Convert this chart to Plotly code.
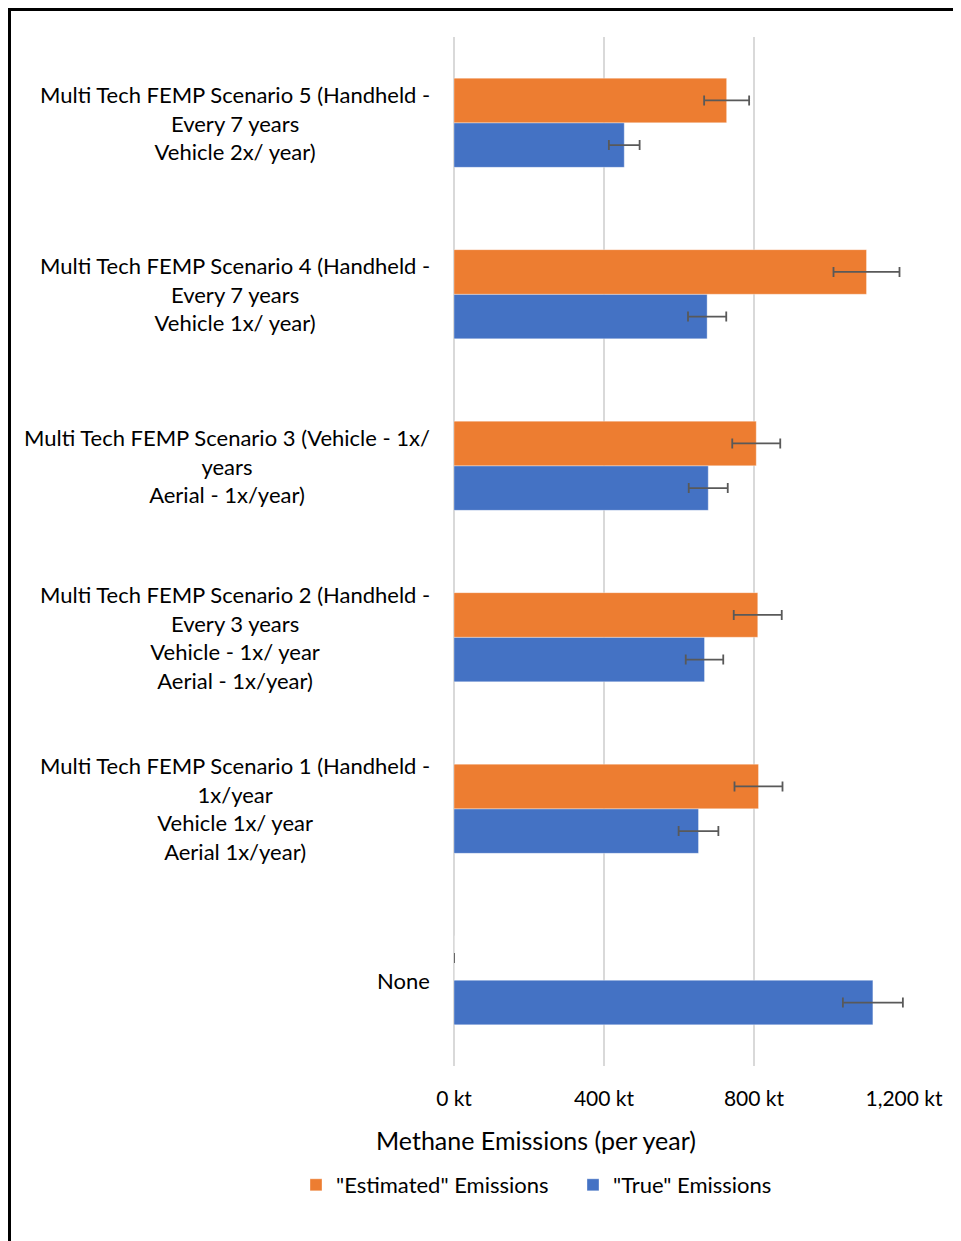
import plotly.graph_objects as go

# Categories, bottom to top
categories = [
    "None",
    "Multi Tech FEMP Scenario 1 (Handheld -<br>1x/year<br>Vehicle 1x/ year<br>Aerial 1x/year)",
    "Multi Tech FEMP Scenario 2 (Handheld -<br>Every 3 years<br>Vehicle - 1x/ year<br>Aerial - 1x/year)",
    "Multi Tech FEMP Scenario 3 (Vehicle - 1x/<br>years<br>Aerial - 1x/year)",
    "Multi Tech FEMP Scenario 4 (Handheld -<br>Every 7 years<br>Vehicle 1x/ year)",
    "Multi Tech FEMP Scenario 5 (Handheld -<br>Every 7 years<br>Vehicle 2x/ year)",
]
true_vals = [1117, 652, 668, 678, 675, 454]
true_err = [80, 53, 50, 52, 51, 41]
est_vals = [0, 812, 810, 806, 1100, 727]
est_err = [0, 64, 64, 64, 88, 60]

tick_vals = [0, 400, 800, 1200]
tick_text = ["0 kt", "400 kt", "800 kt", "1,200 kt"]

FONT = "Lato"
TXT = "#000000"
OFF = 8  # page body margin
W, H = 961 - OFF, 1241 - OFF
L, R, T, B = 454 - OFF, 57, 37 - OFF, 175
pw, ph = W - L - R, H - T - B

def px_to_xpaper(px):
    return (px - OFF - L) / pw

def py_to_ypaper(py):
    return (H - B - (py - OFF)) / ph

fig = go.Figure()
fig.add_trace(go.Bar(
    y=categories, x=true_vals, orientation="h", name='"True" Emissions',
    marker=dict(color="#4472C4", line=dict(color="rgba(255,255,255,0.35)", width=1)),
    error_x=dict(type="data", array=true_err, color="#595959", thickness=1.8, width=5),
    legendrank=2,
))
fig.add_trace(go.Bar(
    y=categories, x=est_vals, orientation="h", name='"Estimated" Emissions',
    marker=dict(color="#ED7D31", line=dict(color="rgba(255,255,255,0.35)", width=1)),
    error_x=dict(type="data", array=est_err, color="#595959", thickness=1.8, width=5),
    legendrank=1,
))

for c in categories:
    fig.add_annotation(
        x=0, xref="paper", xshift=-22, xanchor="right",
        y=c, yref="y", yanchor="middle",
        text=c, align="center", showarrow=False,
        font=dict(family=FONT, size=22, color=TXT),
    )

fig.add_annotation(
    x=px_to_xpaper(536), xref="paper", xanchor="center",
    y=py_to_ypaper(1140), yref="paper", yanchor="middle",
    text="Methane Emissions (per year)", showarrow=False,
    font=dict(family=FONT, size=25, color=TXT),
)

# outer frame lines (left & top)
fig.add_shape(type="line", xref="paper", yref="paper",
              x0=px_to_xpaper(9.5), x1=px_to_xpaper(9.5),
              y0=py_to_ypaper(8), y1=py_to_ypaper(1250),
              line=dict(color="black", width=3))
fig.add_shape(type="line", xref="paper", yref="paper",
              x0=px_to_xpaper(8), x1=px_to_xpaper(970),
              y0=py_to_ypaper(9.5), y1=py_to_ypaper(9.5),
              line=dict(color="black", width=3))

fig.update_layout(
    width=W, height=H,
    margin=dict(l=L, r=R, t=T, b=B),
    paper_bgcolor="white", plot_bgcolor="white",
    barmode="group", bargap=0.48, bargroupgap=0,
    font=dict(family=FONT, size=22, color=TXT),
    showlegend=True,
    legend=dict(
        orientation="h", x=px_to_xpaper(296), xanchor="left",
        y=py_to_ypaper(1185), yanchor="middle",
        font=dict(family=FONT, size=22, color=TXT),
        itemwidth=30, tracegroupgap=0, entrywidth=232,
    ),
    xaxis=dict(
        range=[0, 1200], tickvals=tick_vals, ticktext=tick_text,
        showgrid=True, gridcolor="#D9D9D9", gridwidth=1.5,
        zeroline=True, zerolinecolor="#D9D9D9", zerolinewidth=1.5,
        showline=False, ticks="", ticklabelstandoff=18,
        tickfont=dict(family=FONT, size=21, color=TXT),
    ),
    yaxis=dict(
        type="category", categoryorder="array", categoryarray=categories,
        showticklabels=False, showgrid=False, zeroline=False, showline=False,
        ticks="",
    ),
)

fig.write_html("out.html")
